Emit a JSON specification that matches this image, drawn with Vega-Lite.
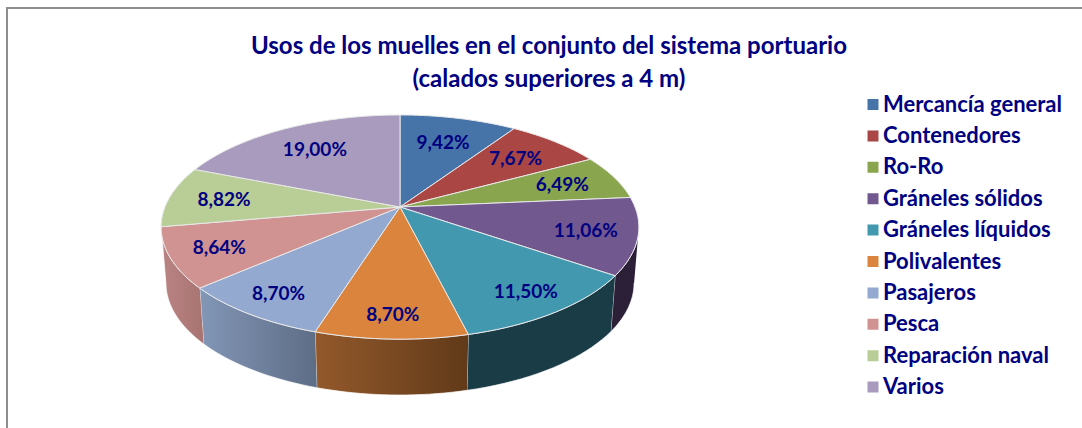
{
"$schema":"https://vega.github.io/schema/vega-lite/v6.json",
"autosize":"none",
"width":1076,"height":421,
"padding":{"left":7,"top":8,"right":0,"bottom":0},
"background":"white",
"title":{"text":["Usos de los muelles en el conjunto del sistema portuario","(calados superiores a 4 m)"],"font":"Lato","fontWeight":"bold","fontSize":24,"lineHeight":33,"color":"#000080","anchor":"middle","frame":"group","baseline":"top","offset":0,"dx":4,"dy":83.5},
"config":{"view":{"stroke":"#8e8e8e","strokeWidth":2}},
"data":{"values":[
{"orden":1,"uso":"Mercancía general","valor":9.42},
{"orden":2,"uso":"Contenedores","valor":7.67},
{"orden":3,"uso":"Ro-Ro","valor":6.49},
{"orden":4,"uso":"Gráneles sólidos","valor":11.06},
{"orden":5,"uso":"Gráneles líquidos","valor":11.50},
{"orden":6,"uso":"Polivalentes","valor":8.70},
{"orden":7,"uso":"Pasajeros","valor":8.70},
{"orden":8,"uso":"Pesca","valor":8.64},
{"orden":9,"uso":"Reparación naval","valor":8.82},
{"orden":10,"uso":"Varios","valor":19.00}
]},
"transform":[
{"stack":"valor","sort":[{"field":"orden","order":"ascending"}],"groupby":[],"as":["ini","fin"]},
{"calculate":"datum.ini/100*2*PI","as":"a0"},
{"calculate":"datum.fin/100*2*PI","as":"a1"}
],
"layer":[
{
"transform":[
{"filter":"datum.a1>1.751 && datum.a0<4.533"},
{"calculate":"max(datum.a0,1.751)","as":"b0"},
{"calculate":"min(datum.a1,4.533)","as":"b1"},
{"calculate":"[0,1,2,3,4,5,6,7,8,9,10,11,12,13,14,15,16,17,18,19,20,21,22,23,24,25,26,27,28,29,30,31,32,33,34,35,36,37,38,39,40,41]","as":"s"},
{"flatten":["s"]},
{"calculate":"datum.s<=20?datum.s/20:(41-datum.s)/20","as":"t"},
{"calculate":"datum.b0+datum.t*(datum.b1-datum.b0)","as":"a"},
{"calculate":"(datum.s>20?0.98:1)*sin(datum.a)/(1+0.179*cos(datum.a))","as":"px"},
{"calculate":"cos(datum.a)/(1+0.179*cos(datum.a))-(datum.s>20?0.515:0)","as":"py"}
],
"mark":{"type":"line","strokeWidth":1,"stroke":"#ffffff","strokeOpacity":0.7},
"encoding":{
"x":{"field":"px","type":"quantitative","axis":null,"scale":{"domain":[-1,1],"range":[158,628]}},
"y":{"field":"py","type":"quantitative","axis":null,"scale":{"domain":[-1,1],"range":[307.5,90.5]}},
"detail":{"field":"uso"},
"order":{"field":"s","type":"quantitative"},
"fill":{"condition":[
{"test":"datum.uso=='Polivalentes'","value":{"gradient":"linear","x1":0,"y1":0,"x2":1,"y2":0,"stops":[{"offset":0,"color":"#93592b"},{"offset":1,"color":"#613a19"}]}},
{"test":"datum.uso=='Pasajeros'","value":{"gradient":"linear","x1":0,"y1":0,"x2":1,"y2":0,"stops":[{"offset":0,"color":"#8296b6"},{"offset":1,"color":"#5e6d86"}]}},
{"test":"datum.uso=='Pesca'","value":{"gradient":"linear","x1":0,"y1":0,"x2":1,"y2":0,"stops":[{"offset":0,"color":"#b98483"},{"offset":1,"color":"#a87472"}]}},
{"test":"datum.uso=='Gráneles líquidos'","value":"#1a3c47"}
],"value":"#2b2038"}
}
},
{
"transform":[
{"calculate":"[-1,0,1,2,3,4,5,6,7,8,9,10,11,12,13,14,15,16,17,18,19,20,21]","as":"s"},
{"flatten":["s"]},
{"calculate":"datum.a0+datum.s/20*(datum.a1-datum.a0)","as":"a"},
{"calculate":"datum.s<0||datum.s>20?0:sin(datum.a)/(1+0.179*cos(datum.a))","as":"px"},
{"calculate":"datum.s<0||datum.s>20?0:cos(datum.a)/(1+0.179*cos(datum.a))","as":"py"}
],
"mark":{"type":"line","filled":true,"stroke":"#e8e8e8","strokeWidth":1},
"encoding":{
"x":{"field":"px","type":"quantitative"},
"y":{"field":"py","type":"quantitative"},
"detail":{"field":"uso"},
"order":{"field":"s","type":"quantitative"},
"color":{"field":"uso","type":"nominal","title":null,
"scale":{"domain":["Mercancía general","Contenedores","Ro-Ro","Gráneles sólidos","Gráneles líquidos","Polivalentes","Pasajeros","Pesca","Reparación naval","Varios"],
"range":["#4674a8","#aa4644","#89a54e","#71588f","#4198af","#db843d","#93a9cf","#d19392","#b9cd96","#a99bbd"]},
"legend":{"orient":"none","legendX":855,"legendY":85,"padding":0,"symbolType":"square","symbolSize":121,"symbolStrokeWidth":0,"labelFont":"Lato","labelFontWeight":"bold","labelFontSize":22,"labelColor":"#000080","labelOffset":-1,"rowPadding":8.4,"clipHeight":23,"labelLimit":220}}
}
},
{
"transform":[
{"calculate":"(datum.a0+datum.a1)/2","as":"m"},
{"calculate":"0.70+0.07*(1-cos(datum.m))","as":"r"},
{"calculate":"datum.r*sin(datum.m)/(1+0.179*datum.r*cos(datum.m))","as":"lx"},
{"calculate":"datum.r*cos(datum.m)/(1+0.179*datum.r*cos(datum.m))","as":"ly"},
{"calculate":"replace(format(datum.valor,'.2f'),'.',',')+'%'","as":"etiqueta"}
],
"mark":{"type":"text","font":"Lato","fontWeight":"bold","fontSize":19,"color":"#000080","dy":1},
"encoding":{
"x":{"field":"lx","type":"quantitative"},
"y":{"field":"ly","type":"quantitative"},
"text":{"field":"etiqueta","type":"nominal"}
}
}
]
}
